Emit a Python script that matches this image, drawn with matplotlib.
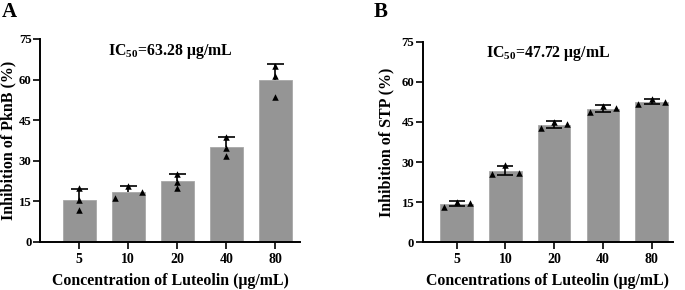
import numpy as np
import matplotlib
matplotlib.use("Agg")
import matplotlib.pyplot as plt

plt.rcParams['font.family'] = ['Liberation Serif', 'DejaVu Serif']
plt.rcParams['font.weight'] = 'bold'
plt.rcParams['mathtext.fontset'] = 'custom'
plt.rcParams['mathtext.rm'] = 'Liberation Serif:bold'
plt.rcParams['mathtext.bf'] = 'Liberation Serif:bold'

concentrations = ["5", "10", "20", "40", "80"]

# Panel A: replicate inhibition values (%) of PknB
pknb_reps = [
    [19.8, 15.5, 11.8],
    [16.1, 20.7, 18.3],
    [25.1, 22.3, 20.1],
    [38.9, 34.9, 31.8],
    [65.1, 61.3, 53.6],
]
pknb_offsets = [
    [0.0, 0.0, 0.0],
    [-0.27, 0.0, 0.27],
    [0.0, 0.0, 0.0],
    [0.0, 0.0, 0.0],
    [0.0, 0.0, 0.0],
]

# Panel B: replicate inhibition values (%) of STP
stp_reps = [
    [13.3, 15.2, 14.7],
    [25.6, 28.9, 25.9],
    [42.6, 45.1, 44.1],
    [48.6, 51.1, 50.3],
    [51.7, 53.6, 52.6],
]
stp_offsets = [[-0.27, 0.0, 0.27]] * 5

yticks = [0, 15, 30, 45, 60, 75]

fig = plt.figure(figsize=(6.85, 2.9), dpi=100)
axA = fig.add_axes([40/685, 48/290, 260/685, 203/290])
axB = fig.add_axes([422.7/685, 47.7/290, 250.3/685, 200.6/290])

BAR = '#959595'

def draw(ax, reps, offsets, both, xlim, xlabel, ylabel, ic50, ylab_x):
    reps = np.array(reps)
    means = reps.mean(axis=1)
    sds = reps.std(axis=1, ddof=1)
    x = np.arange(len(concentrations))
    ax.bar(x, means, width=0.67, color=BAR, edgecolor='#a8a8a8', linewidth=0.6, zorder=2)
    if both:
        ax.errorbar(x, means, yerr=sds, fmt='none', ecolor='black', elinewidth=1.2,
                    capsize=6, capthick=1.2, zorder=3)
    else:
        ax.vlines(x, means, means + sds, color='black', lw=1.2, zorder=3)
        ax.hlines(means + sds, x - 0.17, x + 0.17, color='black', lw=1.2, zorder=3)
    for i in range(len(x)):
        ax.scatter(x[i] + np.array(offsets[i]), reps[i], marker='^', s=22,
                   color='black', zorder=4, linewidths=0)
    ax.set_xlim(*xlim)
    ax.set_ylim(0, 75)
    ax.set_yticks(yticks)
    ax.set_xticks(x)
    ax.set_xticklabels(concentrations)
    for s in ['top', 'right']:
        ax.spines[s].set_visible(False)
    for s in ['left', 'bottom']:
        ax.spines[s].set_linewidth(1.4)
    ax.tick_params(axis='both', width=1.2, length=5, direction='out')
    ax.tick_params(axis='y', pad=1, labelsize=9.2)
    ax.tick_params(axis='x', pad=3, labelsize=10)
    ax.set_xlabel(xlabel, fontsize=11.4, fontweight='bold', labelpad=5)
    ax.set_ylabel(ylabel, fontsize=11.5, fontweight='bold')
    ax.yaxis.label.set_verticalalignment('center')
    ax.yaxis.set_label_coords(ylab_x, 0.5)
    ax.text(0.5, 0.94, r'IC$_{50}$=' + ic50 + ' μg/mL', transform=ax.transAxes,
            ha='center', va='center', fontsize=11.4, fontweight='bold')

draw(axA, pknb_reps, pknb_offsets, False, (-0.8, 4.5),
     'Concentration of Luteolin (μg/mL)', 'Inhibition of PknB (%)', '63.28',
     (8.5 - 40) / 260)
draw(axB, stp_reps, stp_offsets, True, (-0.7, 4.44),
     'Concentrations of Luteolin (μg/mL)', 'Inhibition of STP (%)', '47.72',
     (386.5 - 422.7) / 250.3)

fig.text(2/685, 1 - 12/290, 'A', fontsize=15, fontweight='bold', va='center', ha='left')
fig.text(374/685, 1 - 12/290, 'B', fontsize=15, fontweight='bold', va='center', ha='left')

fig.savefig('out.png', dpi=100)
